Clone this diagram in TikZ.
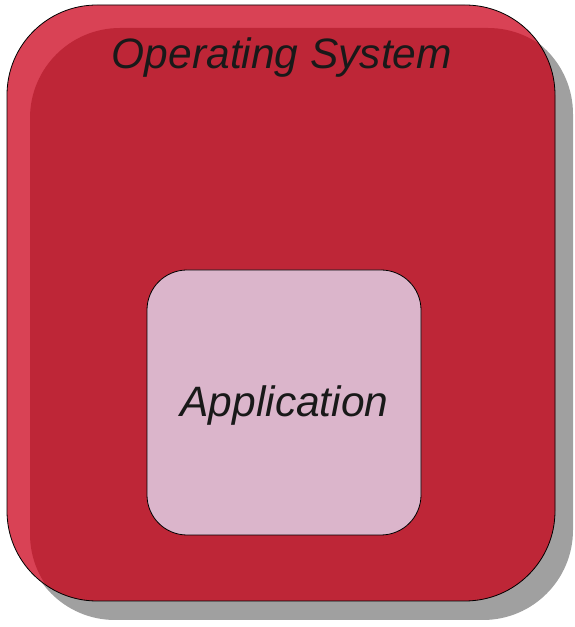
\documentclass[tikz,border=0pt]{standalone}
\usepackage{fontspec}
\setmainfont{Liberation Sans}
\definecolor{osLight}{HTML}{D94255}
\definecolor{osDark}{HTML}{BE2637}
\definecolor{appFill}{HTML}{DBB5CB}
\definecolor{shadowGray}{HTML}{A0A0A0}
\tikzset{
  x=1pt, y=1pt,
  edge/.style={draw=black, line width=0.8pt},
  label/.style={font=\fontsize{42.5}{50}\selectfont\itshape, text=black!90, inner sep=0pt}
}
\begin{document}
\begin{tikzpicture}
  \useasboundingbox (0,0) rectangle (574,627);
  % drop shadow of the operating system box
  \fill[shadowGray, rounded corners=90] (25,7) rectangle (573,603);
  % operating system box: light rim, darker body shifted inwards
  \fill[osLight, rounded corners=90] (7,26) rectangle (555,622);
  \begin{scope}
    \clip[rounded corners=90] (7,26) rectangle (555,622);
    \fill[osDark, rounded corners=90] (30,3) rectangle (578,599);
  \end{scope}
  \draw[edge, rounded corners=90] (7,26) rectangle (555,622);
  \node[label] (os) at (282,569.5) {Operating System};
  % application box
  \node[edge, fill=appFill, rounded corners=40, minimum width=274, minimum height=265, inner sep=0pt] (appbox) at (284,224.5) {};
  \node[label] (app) at (284.5,221.5) {Application};
\end{tikzpicture}
\end{document}
